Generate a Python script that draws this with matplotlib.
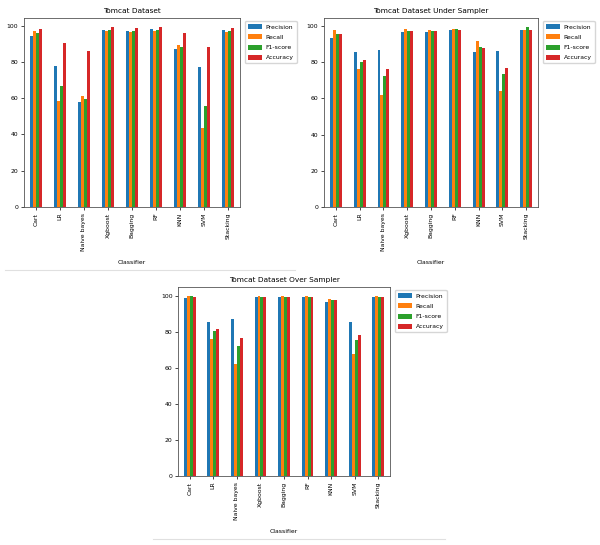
import numpy as np
import matplotlib
matplotlib.use('Agg')
import matplotlib.pyplot as plt
from matplotlib.lines import Line2D

classifiers = ['Cart', 'LR', 'Naive bayes', 'Xgboost', 'Bagging', 'RF', 'KNN', 'SVM', 'Stacking']
metrics = ['Precision', 'Recall', 'F1-score', 'Accuracy']

# Tomcat Dataset
base_precision = [94.3, 77.9, 57.8, 97.4, 97.2, 98.0, 86.9, 77.0, 97.4]
base_recall = [96.9, 58.6, 61.5, 96.9, 96.5, 96.9, 89.1, 43.5, 96.7]
base_f1 = [95.8, 66.9, 59.5, 97.4, 96.9, 97.6, 88.0, 55.6, 97.2]
base_accuracy = [98.3, 90.4, 86.0, 99.1, 98.9, 99.3, 95.9, 88.2, 98.9]

# Under sampler
under_precision = [93.2, 85.4, 86.5, 96.9, 96.9, 97.8, 85.4, 86.0, 97.8]
under_recall = [98.0, 76.0, 62.1, 98.3, 97.8, 98.2, 91.9, 64.1, 97.8]
under_f1 = [95.7, 80.2, 72.1, 97.4, 97.2, 98.2, 88.5, 73.4, 99.4]
under_accuracy = [95.6, 81.1, 76.2, 97.4, 97.2, 97.8, 87.8, 76.7, 97.8]

# Over sampler
over_precision = [98.7, 85.5, 87.1, 99.3, 99.2, 99.3, 96.8, 85.7, 99.4]
over_recall = [100.0, 76.3, 62.2, 99.8, 99.8, 100.0, 98.5, 68.0, 99.8]
over_f1 = [100.0, 80.6, 72.4, 99.4, 99.4, 99.4, 97.6, 75.8, 99.4]
over_accuracy = [99.3, 81.7, 76.7, 99.4, 99.4, 99.4, 97.6, 78.2, 99.4]

colors = ['#1f77b4', '#ff7f0e', '#2ca02c', '#d62728']
fs = 4.4


def bar_panel(ax, series, title):
    x = np.arange(len(classifiers))
    w = 0.125
    for i, vals in enumerate(series):
        ax.bar(x - 0.1875 + i * w, vals, w, color=colors[i], label=metrics[i])
    ax.set_xlim(-0.5, len(classifiers) - 0.5)
    ax.set_xticks(x)
    ax.set_xticklabels(classifiers, rotation=90, fontsize=fs)
    ax.tick_params(axis='y', labelsize=fs)
    ax.tick_params(length=2.2, width=0.5, pad=1.8)
    ax.set_title(title, fontsize=5.3, pad=3.5)
    ax.set_xlabel('Classifier', fontsize=fs, labelpad=7)
    for s in ax.spines.values():
        s.set_linewidth(0.6)
        s.set_color('#555555')
    ax.legend(loc='upper left', bbox_to_anchor=(1.008, 1.0), fontsize=fs,
              handlelength=2.3, handleheight=0.9, borderpad=0.5,
              labelspacing=0.75, handletextpad=0.6, frameon=True)


fig = plt.figure(figsize=(6, 5.45), dpi=100)

ax1 = fig.add_axes([0.04, 0.6202, 0.36, 0.3468])
bar_panel(ax1, [base_precision, base_recall, base_f1, base_accuracy], 'Tomcat Dataset')

ax2 = fig.add_axes([0.54, 0.6202, 0.3567, 0.3468])
bar_panel(ax2, [under_precision, under_recall, under_f1, under_accuracy], 'Tomcat Dataset Under Sampler')

ax3 = fig.add_axes([0.2967, 0.1266, 0.3533, 0.3468])
bar_panel(ax3, [over_precision, over_recall, over_f1, over_accuracy], 'Tomcat Dataset Over Sampler')

# separator lines
fig.add_artist(Line2D([5 / 600, 295 / 600], [1 - 270 / 545] * 2, color='#e0e0e0', lw=0.8))
fig.add_artist(Line2D([153 / 600, 445 / 600], [1 - 539 / 545] * 2, color='#e0e0e0', lw=0.8))

fig.savefig('out.png', dpi=100)
